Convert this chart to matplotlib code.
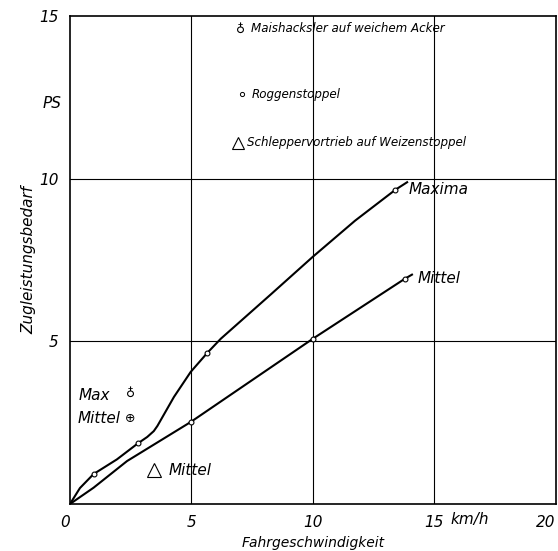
import matplotlib
matplotlib.use("Agg")
import matplotlib.pyplot as plt

plt.rcParams['font.family'] = ['DejaVu Sans']
plt.rcParams['font.style'] = 'italic'

# Maxima curve (Roggenstoppel), km/h vs PS
max_v = [0, 0.41, 0.97, 1.93, 2.79, 3.18, 3.45, 3.6, 3.73, 4.28, 4.97, 5.66, 6.21, 8.28, 10.0, 11.74, 13.4, 13.88]
max_p = [0, 0.49, 0.92, 1.37, 1.86, 2.06, 2.24, 2.40, 2.57, 3.29, 4.06, 4.65, 5.08, 6.45, 7.60, 8.71, 9.66, 9.89]
max_mark_v = [0.97, 2.79, 5.66, 13.4]
max_mark_p = [0.92, 1.86, 4.65, 9.66]

# Mittel curve
mit_v = [0, 0.97, 2.35, 4.97, 10.0, 13.78, 14.08]
mit_p = [0, 0.50, 1.32, 2.52, 5.08, 6.92, 7.05]
mit_mark_v = [4.97, 10.0, 13.78]
mit_mark_p = [2.52, 5.08, 6.92]

xticks = [0, 5, 10, 15, 20]
yticks = [5, 10, 15]

fig = plt.figure(figsize=(5.58, 5.51), dpi=100)
ax = fig.add_axes([0.1254, 0.0853, 0.8706, 0.8857])
ax.set_xlim(0, 20)
ax.set_ylim(0, 15)

for v in [5, 10, 15]:
    ax.axvline(v, color='black', lw=0.8, zorder=1)
for p in [5, 10]:
    ax.axhline(p, color='black', lw=0.8, zorder=1)

ax.plot(max_v, max_p, color='black', lw=1.5, zorder=3)
ax.plot(mit_v, mit_p, color='black', lw=1.5, zorder=3)
ax.plot(max_mark_v, max_mark_p, 'o', ms=3.5, mfc='white', mec='black', mew=0.8, zorder=4)
ax.plot(mit_mark_v, mit_mark_p, 'o', ms=3.5, mfc='white', mec='black', mew=0.8, zorder=4)

for s in ax.spines.values():
    s.set_linewidth(1.2)

ax.set_xticks(xticks)
ax.set_xticklabels([str(t) for t in xticks])
ax.set_yticks(yticks)
ax.set_yticklabels([str(t) for t in yticks])
ax.tick_params(length=0, labelsize=11, pad=8)
ax.get_xticklabels()[0].set_ha('right')
ax.get_xticklabels()[-1].set_ha('right')

ax.set_xlabel('Fahrgeschwindigkeit', fontsize=10, labelpad=4)
ax.set_ylabel('Zugleistungsbedarf', fontsize=11, labelpad=2)

ax.text(16.45, -0.49, 'km/h', fontsize=11, ha='center', va='center', clip_on=False)
ax.text(-0.75, 12.3, 'PS', fontsize=11, ha='center', va='center', clip_on=False)

# legend-like notes
ax.text(7.04, 14.6, '\u2641', fontsize=9, ha='center', va='center', family='DejaVu Sans', style='normal')
ax.text(7.46, 14.6, 'Maishacksler auf weichem Acker', fontsize=8.6, va='center')
ax.plot([7.08], [12.6], 'o', ms=3, mfc='white', mec='black', mew=0.7)
ax.text(7.5, 12.6, 'Roggenstoppel', fontsize=8.6, va='center')
ax.plot([6.9], [11.1], '^', ms=9, mfc='white', mec='black', mew=0.8)
ax.text(7.3, 11.1, 'Schleppervortrieb auf Weizenstoppel', fontsize=8.6, va='center')

ax.text(1.0, 3.35, 'Max', fontsize=11, ha='center', va='center')
ax.text(2.49, 3.4, '\u2641', fontsize=9, ha='center', va='center', family='DejaVu Sans', style='normal')
ax.text(1.2, 2.64, 'Mittel', fontsize=11, ha='center', va='center')
ax.text(2.49, 2.64, '\u2295', fontsize=9, ha='center', va='center', family='DejaVu Sans', style='normal')
ax.plot([3.44], [1.04], '^', ms=10, mfc='white', mec='black', mew=0.8)
ax.text(4.06, 1.04, 'Mittel', fontsize=11, va='center')

ax.text(13.95, 9.66, 'Maxima', fontsize=11, va='center')
ax.text(14.3, 6.92, 'Mittel', fontsize=11, va='center')

fig.savefig('out.png', dpi=100)
